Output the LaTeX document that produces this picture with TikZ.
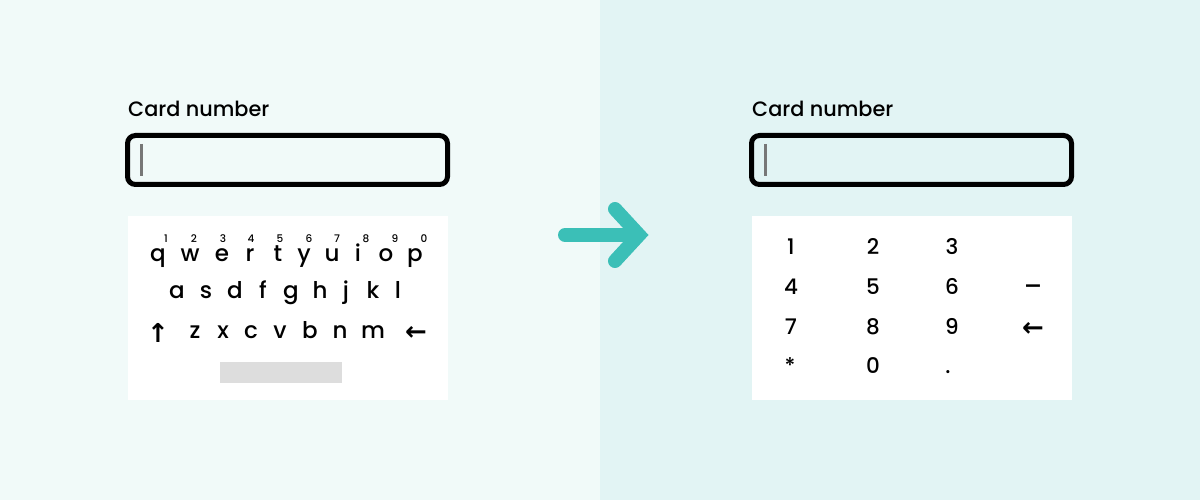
\documentclass[tikz,border=0pt]{standalone}
\usepackage{fontspec}
\setmainfont{Poppins}[UprightFont=* Medium]
\newfontfamily\symfont{DejaVu Sans}[UprightFont=* Bold]
\definecolor{bgleft}{HTML}{F1FAF9}
\definecolor{bgright}{HTML}{E2F4F4}
\definecolor{teal}{HTML}{3BBFB7}
\definecolor{cursorgray}{HTML}{777777}
\definecolor{spacegray}{HTML}{DDDDDD}
\begin{document}
\begin{tikzpicture}[x=1pt,y=-1pt,
  lbl/.style={anchor=base west,inner sep=0pt,font=\fontsize{20.8}{24}\selectfont},
  key/.style={anchor=base,inner sep=0pt,font=\fontsize{23}{26}\selectfont},
  sup/.style={anchor=base,inner sep=0pt,font=\fontsize{10.5}{12}\selectfont},
  num/.style={anchor=base,inner sep=0pt,font=\fontsize{21.5}{24}\selectfont},
  arr/.style={anchor=base,inner sep=0pt,font=\symfont\fontsize{26}{28}\selectfont},
  field/.style={draw=black,line width=5pt,rounded corners=8pt},
  panel/.style={fill=white,draw=none}]
\useasboundingbox (0,0) rectangle (1200,500);
\fill[bgleft] (0,0) rectangle (600,500);
\fill[bgright] (600,0) rectangle (1200,500);

% left side
\node[lbl] (lblL) at (128,117) {Card number};
\draw[field] (127.5,135.5) rectangle (447.5,184.5);
\draw[cursorgray,line width=3pt] (141,144) -- (141,176);
\fill[panel] (128,216) rectangle (448,400);

\foreach \c/\x [count=\i] in {q/158,w/190,e/222,r/250,t/278,y/304,u/332,i/358,o/386,p/415}
  \node[key] (k\c) at (\x,261) {\c};
\foreach \d/\x in {1/166,2/194,3/223,4/251,5/280,6/309,7/337,8/366,9/395,0/424}
  \node[sup] (s\d) at (\x,242) {\d};
\foreach \c/\x in {a/177,s/206,d/235,f/263,g/291,h/320,j/346,k/373,l/398}
  \node[key] (k\c) at (\x,298) {\c};
\foreach \c/\x in {z/195,x/223,c/251,v/280,b/310,n/340,m/373}
  \node[key] (k\c) at (\x,338) {\c};
\node[arr] (kshift) at (158,342) {↑};
\node[arr] (kback) at (416,340) {←};
\fill[spacegray] (220,362) rectangle (342,383);

% arrow
\draw[teal,line width=14pt,line cap=round] (565,235) -- (632,235);
\draw[teal,line width=14pt,line cap=round,line join=miter] (615,209) -- (639,235) -- (615,261);

% right side
\node[lbl] (lblR) at (752,117) {Card number};
\draw[field] (751.5,135.5) rectangle (1071.5,184.5);
\draw[cursorgray,line width=3pt] (765,144) -- (765,176);
\fill[panel] (752,216) rectangle (1072,400);

\node[num] (n1) at (791,254) {1};
\node[num] (n2) at (873,254) {2};
\node[num] (n3) at (952,254) {3};
\node[num] (n4) at (791,294) {4};
\node[num] (n5) at (873,294) {5};
\node[num] (n6) at (952,294) {6};
\node[num,font=\fontsize{26}{28}\selectfont] (nminus) at (1033,295) {–};
\node[num] (n7) at (791,334) {7};
\node[num] (n8) at (873,334) {8};
\node[num] (n9) at (952,334) {9};
\node[arr] (nback) at (1033,336) {←};
\node[num] (nstar) at (790,373) {*};
\node[num] (n0) at (873,373) {0};
\node[num] (ndot) at (948,373) {.};
\end{tikzpicture}
\end{document}
